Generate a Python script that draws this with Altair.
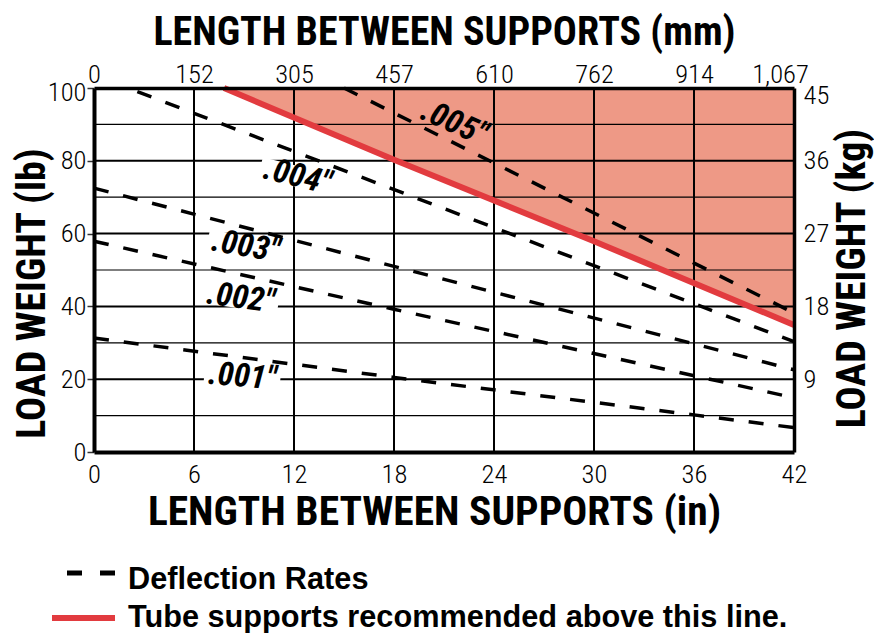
import altair as alt
import pandas as pd

# ---------------- data ----------------
x_ticks_in = [0, 6, 12, 18, 24, 30, 36, 42]
y_ticks_lb = [0, 20, 40, 60, 80, 100]
kg_ticks_lb = [20, 40, 60, 80, 100]
grid_x = [6, 12, 18, 24, 30, 36]
grid_y = [10, 20, 30, 40, 50, 60, 70, 80, 90]

# deflection-rate lines (inches, lb)
d001_x = [0, 18, 36, 42]
d001_y = [31.3, 20.5, 10.2, 6.7]
d002_x = [0, 18, 42]
d002_y = [57.9, 39.2, 14.9]
d003_x = [0, 18, 42]
d003_y = [72.5, 51.0, 22.6]
d004_x = [2.6, 18.8, 42]
d004_y = [99.0, 70.7, 30.3]
d005_x = [15.0, 24, 36, 42]
d005_y = [100, 79.4, 51.9, 38.2]

# tube-support recommendation line
red_x = [7.8, 18, 30, 42]
red_y = [100, 80.3, 57.9, 34.9]

# line labels
lab_text = ['.005"', '.004"', '.003"', '.002"', '.001"']
lab_x = [21.6, 12.2, 9.1, 8.8, 8.9]
lab_y = [90.4, 75.7, 56.5, 42.3, 20.7]
lab_angle = [24, 14, 10, 8, 5]

legend_labels = ["Deflection Rates", "Tube supports recommended above this line."]

# ---------------- styling ----------------
COND = "Roboto Condensed, Open Sans Condensed, sans-serif"
REG = "Liberation Sans, Arial, sans-serif"
PINK = "#EE9986"
RED = "#E23B3F"

rows = []
for name, xs_, ys_ in [(".001", d001_x, d001_y), (".002", d002_x, d002_y),
                       (".003", d003_x, d003_y), (".004", d004_x, d004_y),
                       (".005", d005_x, d005_y)]:
    for a, b in zip(xs_, ys_):
        rows.append({"series": name, "x": a, "y": b})
defl = pd.DataFrame(rows)
red = pd.DataFrame({"x": red_x, "y": red_y})
gx = pd.DataFrame({"gx": grid_x})
gy = pd.DataFrame({"gy": grid_y, "w": [2.0 if v % 20 == 0 else 1.2 for v in grid_y]})
labels = pd.DataFrame({"t": lab_text, "x": lab_x, "y": lab_y, "a": lab_angle,
                       "halo": [PINK, "white", "white", "white", "white"]})
one = pd.DataFrame({"k": [0]})

xs = alt.Scale(domain=[0, 42], nice=False, zero=False)
ys = alt.Scale(domain=[0, 100], nice=False, zero=False)

LBL = dict(labelFont=COND, labelFontSize=26.5, labelFontWeight=300, labelColor="black",
           labelFlush=False, domainColor="black", grid=False, titleFont=COND,
           titleFontWeight="bold", titleColor="black", zindex=1)

axis_bottom = alt.Axis(
    values=x_ticks_in, ticks=False, labelPadding=9, domainWidth=4,
    title="LENGTH BETWEEN SUPPORTS (in)", titleFontSize=41.5, titlePadding=4,
    titleX=340, titleAlign="center", **LBL)
axis_left = alt.Axis(
    values=y_ticks_lb, tickSize=7, tickWidth=1.5, tickColor="#333333", labelPadding=1,
    labelOffset={"condition": {"test": "datum.value == 100", "value": 4}, "value": 0},
    domainWidth=4,
    title="LOAD WEIGHT (lb)", titleFontSize=40, titleAngle=270,
    titleBaseline="alphabetic", titleAlign="center", titleX=-50, titleY=205, **LBL)
axis_top = alt.Axis(
    orient="top", values=x_ticks_in, labelExpr="format(datum.value * 25.4, ',.0f')",
    labelOffset={"condition": {"test": "datum.value == 42", "value": -14}, "value": 0},
    ticks=False, labelPadding=0, domainWidth=3.5,
    title="LENGTH BETWEEN SUPPORTS (mm)", titleFontSize=40, titlePadding=9, **LBL)
axis_right = alt.Axis(
    orient="right", values=kg_ticks_lb, labelExpr="format(datum.value * 0.45359237, '.0f')",
    labelOffset={"condition": {"test": "datum.value == 100", "value": 7}, "value": 0},
    ticks=False, labelPadding=9, domainWidth=3.5,
    title="LOAD WEIGHT (kg)", titleFontSize=40, titleAngle=270,
    titleBaseline="alphabetic", titleAlign="center", titleX=70, titleY=190, **LBL)

fill = alt.Chart(red).mark_area(color=PINK, opacity=1).encode(
    x=alt.X("x:Q", scale=xs, axis=axis_bottom),
    y=alt.Y("y:Q", scale=ys, axis=axis_left),
    y2=alt.datum(100),
)
vgrid = alt.Chart(gx).mark_rule(color="black", strokeWidth=2).encode(
    x=alt.X("gx:Q", scale=xs, axis=None))
hgrid = alt.Chart(gy).mark_rule(color="black").encode(
    y=alt.Y("gy:Q", scale=ys, axis=None),
    strokeWidth=alt.StrokeWidth("w:Q", scale=None))
dashed = alt.Chart(defl).mark_line(color="black", strokeWidth=3.5, strokeDash=[15, 15]).encode(
    x=alt.X("x:Q", scale=xs, axis=None),
    y=alt.Y("y:Q", scale=ys, axis=None),
    detail="series:N")
redline = alt.Chart(red).mark_line(color=RED, strokeWidth=6).encode(
    x=alt.X("x:Q", scale=xs, axis=axis_top),
    y=alt.Y("y:Q", scale=ys, axis=axis_right))
halo = alt.Chart(labels).mark_point(
    shape="M-1,-0.27L1,-0.27L1,0.27L-1,0.27Z", filled=True, opacity=1, size=5800).encode(
    x=alt.X("x:Q", scale=xs, axis=None),
    y=alt.Y("y:Q", scale=ys, axis=None),
    angle=alt.Angle("a:Q", scale=None),
    color=alt.Color("halo:N", scale=None))
texts = alt.Chart(labels).mark_text(
    font=COND, fontSize=33, fontWeight="bold", fontStyle="italic", color="black",
    align="center", baseline="middle").encode(
    x=alt.X("x:Q", scale=xs, axis=None),
    y=alt.Y("y:Q", scale=ys, axis=None),
    angle=alt.Angle("a:Q", scale=None),
    text="t:N")

leg_dash = alt.Chart(one).mark_rule(color="black", strokeWidth=5, strokeDash=[15, 18]).encode(
    x=alt.value(-27), x2=alt.value(21), y=alt.value(485))
leg_red = alt.Chart(one).mark_rule(color=RED, strokeWidth=6).encode(
    x=alt.value(-42), x2=alt.value(21), y=alt.value(530))
leg_t1 = alt.Chart(one).mark_text(
    text=legend_labels[0], font=REG, fontSize=30.7, fontWeight="bold", color="black",
    align="left", baseline="alphabetic").encode(x=alt.value(34), y=alt.value(501))
leg_t2 = alt.Chart(one).mark_text(
    text=legend_labels[1], font=REG, fontSize=30.7, fontWeight="bold", color="black",
    align="left", baseline="alphabetic").encode(x=alt.value(34), y=alt.value(539))

chart = alt.layer(
    fill, vgrid, hgrid, dashed, redline, halo, texts, leg_dash, leg_red, leg_t1, leg_t2
).resolve_scale(x="shared", y="shared").resolve_axis(
    x="independent", y="independent"
).properties(
    width=700, height=364,
    autosize=alt.AutoSizeParams(type="none"),
    padding={"left": 86, "top": 80, "right": 80, "bottom": 181},
).configure_view(stroke=None)

chart.save("out.html", embed_options={"renderer": "svg", "actions": False})
